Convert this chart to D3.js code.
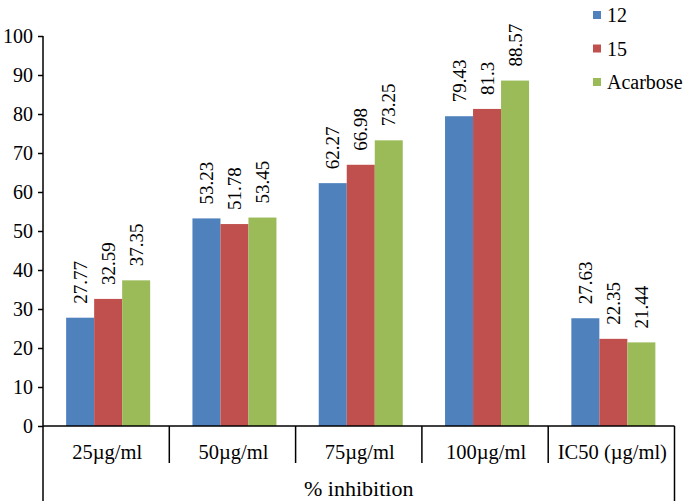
<!DOCTYPE html>
<html><head><meta charset="utf-8">
<script src="https://cdn.jsdelivr.net/npm/d3@7"></script>
<style>body{margin:0;background:#fff}svg{display:block}</style>
</head><body>
<script>
const categories = ["25µg/ml","50µg/ml","75µg/ml","100µg/ml","IC50 (µg/ml)"];
const seriesNames = ["12","15","Acarbose"];
const values12 = [27.77,53.23,62.27,79.43,27.63];
const values15 = [32.59,51.78,66.98,81.3,22.35];
const valuesAcarbose = [37.35,53.45,73.25,88.57,21.44];
const colors = ["#4F81BD","#C0504D","#9BBB59"];
const yTicks = [0,10,20,30,40,50,60,70,80,90,100];
const labelStrings = [["27.77","53.23","62.27","79.43","27.63"],["32.59","51.78","66.98","81.3","22.35"],["37.35","53.45","73.25","88.57","21.44"]];
const allValues = [values12, values15, valuesAcarbose];

(function(){
const FF='"Liberation Serif"';
const W=685,H=504;
const svg=d3.select("body").append("svg").attr("width",W).attr("height",H);
const pl=43,pr=674.5,pt=36,pb=426;
const x=d3.scaleBand().domain(categories).range([pl,pr]).paddingInner(0).paddingOuter(0);
const xs=d3.scaleBand().domain(seriesNames).range([2,x.bandwidth()+2]).paddingInner(0).paddingOuter(0.755);
const y=d3.scaleLinear().domain([0,100]).range([pb,pt]);

seriesNames.forEach((s,si)=>{
  svg.append("g").selectAll("rect").data(categories).join("rect")
    .attr("x",c=>x(c)+xs(s)).attr("width",xs.bandwidth())
    .attr("y",(c,i)=>y(allValues[si][i])).attr("height",(c,i)=>y(0)-y(allValues[si][i]))
    .attr("fill",colors[si]);
  svg.append("g").selectAll("text").data(categories).join("text")
    .attr("transform",(c,i)=>`translate(${x(c)+xs(s)+xs.bandwidth()/2},${y(allValues[si][i])-14}) rotate(-90)`)
    .attr("dy","0.35em")
    .style("font-family",FF).style("font-size","19px").attr("fill","#000").text((c,i)=>labelStrings[si][i]);
});

const ya=svg.append("g").attr("transform",`translate(${pl},0)`)
  .call(d3.axisLeft(y).tickValues(yTicks).tickSize(5).tickPadding(5));
ya.attr("font-family",null);
ya.select(".domain").remove();
ya.selectAll(".tick line").attr("stroke","#000").attr("stroke-width",1.5);
ya.selectAll(".tick text").style("font-size","20px").style("font-family",FF).attr("fill","#000");
svg.append("line").attr("x1",pl).attr("x2",pl).attr("y1",pt).attr("y2",501).attr("stroke","#000").attr("stroke-width",1.5);
svg.append("line").attr("x1",pl).attr("x2",pr).attr("y1",pb).attr("y2",pb).attr("stroke","#000").attr("stroke-width",1.5);
const seps=categories.map(c=>x(c)+x.bandwidth());
svg.append("g").selectAll("line").data(seps.slice(0,-1)).join("line")
  .attr("x1",d=>d).attr("x2",d=>d).attr("y1",pb).attr("y2",463).attr("stroke","#000").attr("stroke-width",1.5);
svg.append("line").attr("x1",pr).attr("x2",pr).attr("y1",pb).attr("y2",501).attr("stroke","#000").attr("stroke-width",1.5);
svg.append("g").selectAll("text").data(categories).join("text")
  .attr("x",c=>x(c)+x.bandwidth()/2+1).attr("y",452).attr("text-anchor","middle").attr("dy","0.35em")
  .style("font-family",FF).style("font-size","20.5px").attr("fill","#000").text(c=>c);
svg.append("text").attr("x",(pl+pr)/2).attr("y",488).attr("text-anchor","middle").attr("dy","0.35em")
  .style("font-family",FF).style("font-size","22px").attr("fill","#000").text("% inhibition");

const lg=svg.append("g").selectAll("g").data(seriesNames).join("g").attr("transform",(d,i)=>`translate(593,${11+i*33.5})`);
lg.append("rect").attr("width",8).attr("height",8).attr("fill",(d,i)=>colors[i]);
lg.append("text").attr("x",14).attr("y",4).attr("dy","0.35em").style("font-family",FF).style("font-size","20px").attr("fill","#000").text(d=>d);
})();
</script>
</body></html>
